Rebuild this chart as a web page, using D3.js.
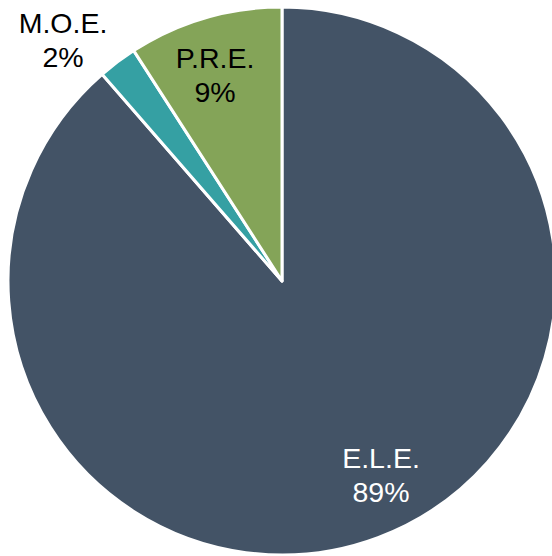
<!DOCTYPE html>
<html>
<head>
<meta charset="utf-8">
<script src="https://cdn.jsdelivr.net/npm/d3@7"></script>
<style>
  html, body { margin: 0; padding: 0; background: #ffffff; }
  svg { display: block; }
</style>
</head>
<body>
<script>
// Data
const categories = ["E.L.E.", "M.O.E.", "P.R.E."];
const values = [88.6, 2.3, 9.1];
const percentLabels = ["89%", "2%", "9%"];
const colors = ["#435366", "#35a0a3", "#84a458"];

const width = 552, height = 556;
const cx = 282, cy = 281, radius = 274;

const svg = d3.select("body").append("svg")
  .attr("width", width).attr("height", height);

const g = svg.append("g").attr("transform", `translate(${cx},${cy})`);

const pie = d3.pie().sort(null).value(d => d.value);
const arc = d3.arc().innerRadius(0).outerRadius(radius);

const data = categories.map((c, i) => ({ name: c, value: values[i], pct: percentLabels[i], color: colors[i] }));
const arcs = pie(data);

g.selectAll("path.slice")
  .data(arcs)
  .join("path")
  .attr("class", "slice")
  .attr("d", arc)
  .attr("fill", d => d.data.color)
  .attr("stroke", "#ffffff")
  .attr("stroke-width", 3)
  .attr("stroke-linejoin", "round");

// label placement (offsets from pie centre, in px, of block centre)
const labelPlacement = {
  "E.L.E.": { x: 99, y: 194, fill: "#ffffff" },
  "M.O.E.": { x: -219, y: -241, fill: "#000000" },
  "P.R.E.": { x: -67, y: -206, fill: "#000000" }
};

const fontSize = 28.5;
const lineGap = 34;

const labels = g.selectAll("text.lbl")
  .data(arcs)
  .join("text")
  .attr("class", "lbl")
  .attr("text-anchor", "middle")
  .attr("font-family", "Arial, 'Liberation Sans', sans-serif")
  .attr("font-size", fontSize)
  .attr("fill", d => labelPlacement[d.data.name].fill);

labels.append("tspan")
  .attr("x", d => labelPlacement[d.data.name].x)
  .attr("y", d => labelPlacement[d.data.name].y - lineGap / 2 + fontSize * 0.36)
  .text(d => d.data.name);

labels.append("tspan")
  .attr("x", d => labelPlacement[d.data.name].x)
  .attr("y", d => labelPlacement[d.data.name].y + lineGap / 2 + fontSize * 0.36)
  .text(d => d.data.pct);
</script>
</body>
</html>
